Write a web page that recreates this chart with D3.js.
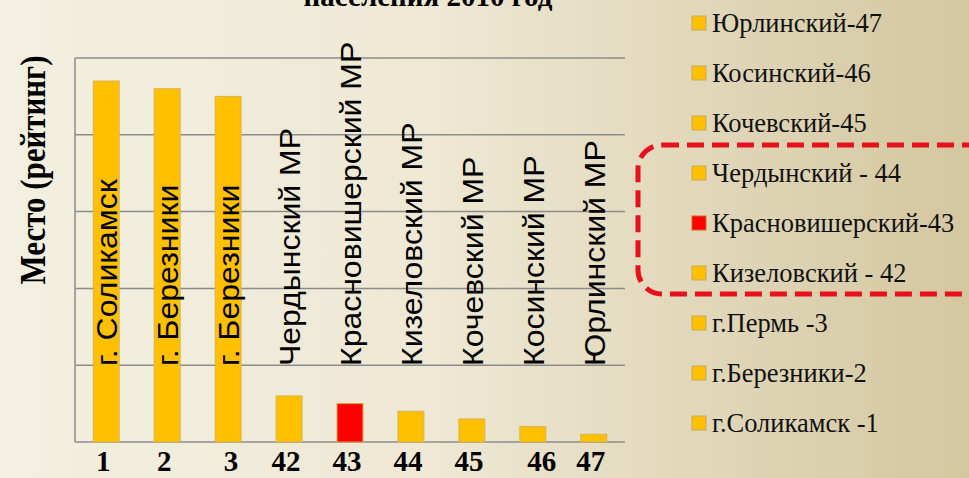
<!DOCTYPE html>
<html>
<head>
<meta charset="utf-8">
<script src="https://cdn.jsdelivr.net/npm/d3@7"></script>
<style>
  html, body { margin: 0; padding: 0; overflow: hidden; }
  svg { display: block; }
</style>
</head>
<body>
<svg width="969" height="478"></svg>
<script>
const svg = d3.select("svg");
const svgWidth = +svg.attr("width");
const svgHeight = +svg.attr("height");

// chart data
const ranks = ["1", "2", "3", "42", "43", "44", "45", "46", "47"];
const barNames = ["г. Соликамск", "г. Березники", "г. Березники", "Чердынский МР", "Красновишерский МР",
  "Кизеловский МР", "Кочевский МР", "Косинский МР", "Юрлинский МР"];
const barValues = [47, 46, 45, 6, 5, 4, 3, 2, 1];
const highlighted = [false, false, false, false, true, false, false, false, false];
const yTicks = [0, 10, 20, 30, 40, 50];

const legendNames = ["Юрлинский-47", "Косинский-46", "Кочевский-45", "Чердынский - 44",
  "Красновишерский-43", "Кизеловский - 42", "г.Пермь -3", "г.Березники-2", "г.Соликамск -1"];
const legendRed = [false, false, false, false, true, false, false, false, false];

const titleText = "населения 2010 год";
const yTitle = "Место (рейтинг)";

const gold = "#FFC000";
const red = "#FF0000";

// background gradient
const defs = svg.append("defs");
const grad = defs.append("linearGradient").attr("id", "bg").attr("x1", 0).attr("x2", 1).attr("y1", 0).attr("y2", 0);
grad.append("stop").attr("offset", "0%").attr("stop-color", "#F3F0E1");
grad.append("stop").attr("offset", "45%").attr("stop-color", "#EEE8D4");
grad.append("stop").attr("offset", "100%").attr("stop-color", "#D4C7A0");
svg.append("rect").attr("width", svgWidth).attr("height", svgHeight).attr("fill", "url(#bg)");

const margin = { left: 75, right: 344, top: 58, bottom: 36 };
const innerW = svgWidth - margin.left - margin.right;
const innerH = svgHeight - margin.top - margin.bottom;
const g = svg.append("g").attr("transform", `translate(${margin.left},${margin.top})`);

const xScale = d3.scaleBand().domain(d3.range(ranks.length)).range([0, innerW]).paddingInner(0.575).paddingOuter(0.3);
const yScale = d3.scaleLinear().domain([0, 50]).range([innerH, 0]);

// gridlines
g.selectAll("line.grid")
  .data(yTicks)
  .enter()
  .append("line")
  .attr("class", "grid")
  .attr("x1", 0)
  .attr("x2", innerW)
  .attr("y1", (d) => yScale(d))
  .attr("y2", (d) => yScale(d))
  .attr("stroke", "#8c8c8c")
  .attr("stroke-width", 1.5);

g.append("line")
  .attr("x1", 0).attr("x2", 0)
  .attr("y1", 0).attr("y2", innerH)
  .attr("stroke", "#8c8c8c")
  .attr("stroke-width", 1.5);

// bars
g.selectAll("rect.bar")
  .data(barValues)
  .enter()
  .append("rect")
  .attr("class", "bar")
  .attr("x", (d, i) => xScale(i))
  .attr("y", (d) => yScale(d))
  .attr("width", xScale.bandwidth())
  .attr("height", (d) => innerH - yScale(d))
  .attr("fill", (d, i) => (highlighted[i] ? red : gold))
  .attr("stroke", (d, i) => (highlighted[i] ? "#E39A3C" : "#D8B24E"))
  .attr("stroke-width", 1);

// rotated names
g.selectAll("text.name")
  .data(barNames)
  .enter()
  .append("text")
  .attr("class", "name")
  .attr("transform", (d, i) => `translate(${xScale(i) + xScale.bandwidth() / 2 + 11},${innerH - 76}) rotate(-90) scale(1,0.92)`)
  .attr("font-family", "Liberation Sans, Arial, sans-serif")
  .attr("font-size", 32)
  .attr("fill", "#000")
  .text((d) => d);

// x rank labels
const nudge = [0, 0, 6, 0, 0, 0, 0, 12, 0];
g.selectAll("text.rank")
  .data(ranks)
  .enter()
  .append("text")
  .attr("class", "rank")
  .attr("x", (d, i) => xScale(i) + xScale.bandwidth() / 2 + nudge[i] - 3)
  .attr("y", innerH + 29)
  .attr("text-anchor", "middle")
  .attr("font-family", "Liberation Serif, Times New Roman, serif")
  .attr("font-weight", "bold")
  .attr("font-size", 29)
  .attr("fill", "#000")
  .text((d) => d);

// title, mostly cut off at the top
svg.append("text")
  .attr("x", 428)
  .attr("y", 6)
  .attr("text-anchor", "middle")
  .attr("font-family", "Liberation Serif, Times New Roman, serif")
  .attr("font-weight", "bold")
  .attr("font-size", 29)
  .attr("fill", "#000")
  .text(titleText);

// y title
svg.append("text")
  .attr("transform", "translate(45,170) rotate(-90) scale(0.86,1)")
  .attr("text-anchor", "middle")
  .attr("font-family", "Liberation Serif, Times New Roman, serif")
  .attr("font-weight", "bold")
  .attr("font-size", 36)
  .attr("fill", "#000")
  .text(yTitle);

// legend
const legendY = d3.scalePoint().domain(d3.range(legendNames.length)).range([23, 423]);
const legend = svg.append("g");
const items = legend.selectAll("g.item")
  .data(legendNames)
  .enter()
  .append("g")
  .attr("transform", (d, i) => `translate(692,${legendY(i)})`);

items.append("rect")
  .attr("x", 0)
  .attr("y", -7)
  .attr("width", 14)
  .attr("height", 14)
  .attr("fill", (d, i) => (legendRed[i] ? red : gold))
  .attr("stroke", (d, i) => (legendRed[i] ? "#D2691E" : "#C9A85A"))
  .attr("stroke-width", 1);

items.append("text")
  .attr("x", 20)
  .attr("y", 9)
  .attr("font-family", "Liberation Serif, Times New Roman, serif")
  .attr("font-size", 26.5)
  .attr("fill", "#111")
  .text((d) => d);

// dashed highlight box
svg.append("rect")
  .attr("x", 638)
  .attr("y", 145)
  .attr("width", 360)
  .attr("height", 149)
  .attr("rx", 24)
  .attr("fill", "none")
  .attr("stroke", "#E8101A")
  .attr("stroke-width", 5)
  .attr("stroke-dasharray", "17,8");
</script>
</body>
</html>
